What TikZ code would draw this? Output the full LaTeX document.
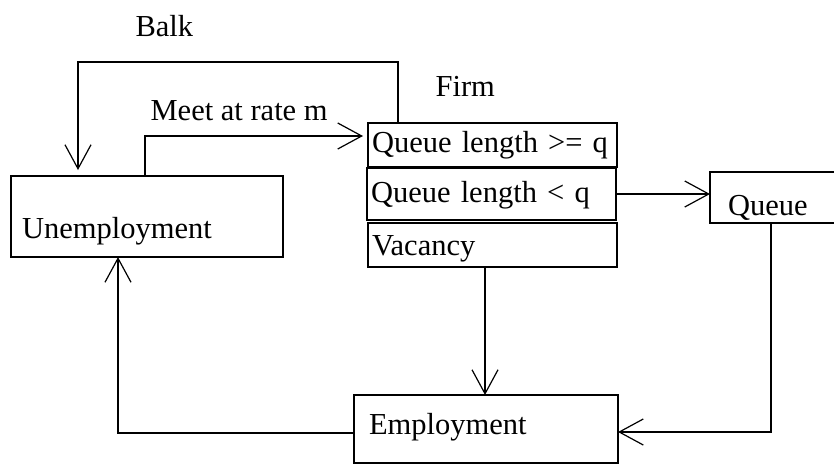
\documentclass[tikz,border=0pt]{standalone}
\usepackage{fontspec}
\setmainfont{Liberation Serif}
\usetikzlibrary{arrows.meta}

\begin{document}
\begin{tikzpicture}[x=1pt, y=-1pt, line width=1.2pt,
  font=\fontsize{30.5}{36}\selectfont]
  % Define box, label and arrow styles
  \tikzstyle{mybox} = [draw, rectangle, anchor=north west, align=left,
  inner ysep=0pt, outer sep=0pt]
  \tikzstyle{mylabel} = [anchor=base west, inner sep=0pt]
  \tikzstyle{myarrow} = [-{Straight Barb[length=24pt, width=26pt]}]

  \useasboundingbox (0,0) rectangle (834,466);

  \node[mybox, inner xsep=11pt, text width=250pt, text height=62pt,
  text depth=19pt] (unemp) at (11,176) {Unemployment};
  \node[mybox, inner xsep=4pt, text width=241pt, text height=29pt,
  text depth=15pt] (firmA) at (368,123) {Queue length >= q};
  \node[mybox, inner xsep=4pt, text width=241pt, text height=34pt,
  text depth=18pt] (firmB) at (367,168) {Queue length < q};
  \node[mybox, inner xsep=4pt, text width=241pt, text height=32pt,
  text depth=12pt] (firmC) at (368,223) {Vacancy};
  \node[mybox, inner xsep=18pt, text width=99pt, text height=43pt,
  text depth=8pt] (queue) at (710,172) {Queue};
  \node[mybox, inner xsep=15pt, text width=234pt, text height=39pt,
  text depth=29pt] (emp) at (354,395) {Employment};

  \node[mylabel] (balk) at (135,36) {Balk};
  \node[mylabel] (meet) at (150,120) {Meet at rate m};
  \node[mylabel] (firm) at (435,96) {Firm};

  \draw[myarrow, shorten >=6pt] (firmA.north -| 398,0) -- ++(0,-61)
  -| (unemp.north -| 78,0);
  \draw[myarrow, shorten >=5pt] (unemp.north -| 145,0) |- (firmA.west |- 0,136);
  \draw[myarrow] (firmB.east) -- (queue.west |- firmB.east);
  \draw[myarrow] (firmC.south -| 485,0) -- (emp.north -| 485,0);
  \draw[myarrow] (queue.south -| 771,0) |- (emp.east |- 0,432);
  \draw[myarrow] (emp.west |- 0,433) -| (unemp.south -| 118,0);
\end{tikzpicture}
\end{document}
